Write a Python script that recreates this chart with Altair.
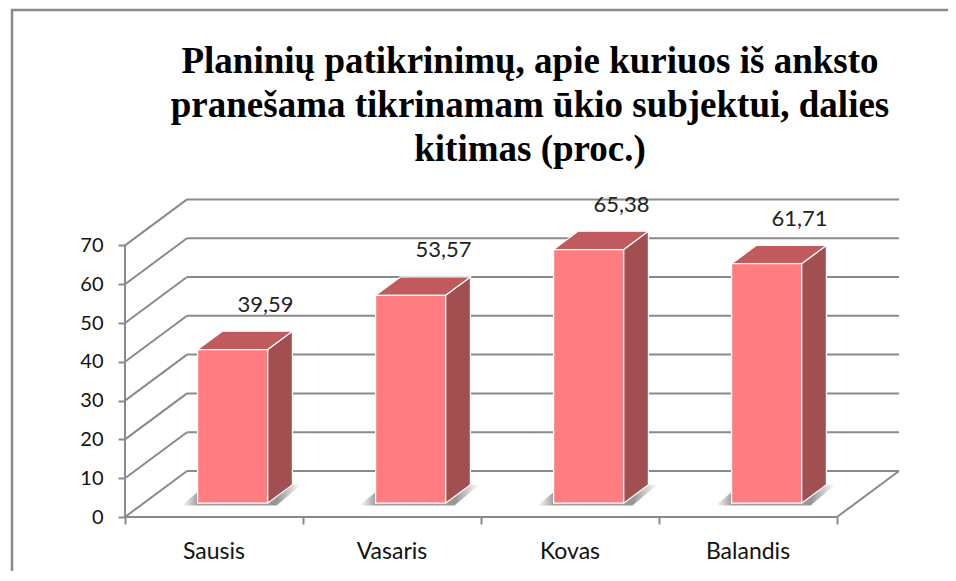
import altair as alt
import pandas as pd

# ---------------- data ----------------
months = ["Sausis", "Vasaris", "Kovas", "Balandis"]
values = [39.59, 53.57, 65.38, 61.71]
value_labels = ["39,59", "53,57", "65,38", "61,71"]
y_ticks = [0, 10, 20, 30, 40, 50, 60, 70]
title_lines = [
    "Planinių patikrinimų, apie kuriuos iš anksto",
    "pranešama tikrinamam ūkio subjektui, dalies",
    "kitimas (proc.)",
]

# ---------------- oblique 3-D geometry (in scale units) ----------------
W, H = 776, 330            # plot area (px)
PX_X, PX_Y = 178.0, 3.88   # px per category band / px per percent
XMAX, YMAX = W / PX_X, H / PX_Y
DX, DY = 62 / PX_X, 46 / PX_Y   # full depth of the floor
F0, F1 = 0.30, 0.70             # bar front / back depth fraction
BW = 70 / PX_X                  # bar width
n = len(months)
dep_x, dep_y = (F1 - F0) * DX, (F1 - F0) * DY

front_rows, side_rows, top_rows, lab_rows, shadow_rows = [], [], [], [], []
for i, (m, v, lab) in enumerate(zip(months, values, value_labels)):
    cx = i + 0.5 + F0 * DX
    xl, xr = cx - BW / 2, cx + BW / 2
    y0, y1 = F0 * DY, v + F0 * DY
    front_rows.append(dict(month=m, xl=xl, xr=xr, y0=y0, y1=y1))
    side_rows += [dict(month=m, x=xr, lo=y0, hi=y1),
                  dict(month=m, x=xr + dep_x, lo=y0 + dep_y, hi=y1 + dep_y)]
    top_rows += [dict(month=m, y=y1, xa=xl, xb=xr),
                 dict(month=m, y=y1 + dep_y, xa=xl + dep_x, xb=xr + dep_x)]
    lab_rows.append(dict(month=m, x=cx, y=y1, label=lab))
    shadow_rows += [dict(month=m, y=y0 - 0.6, xa=xl - 0.09, xb=xr + 0.05),
                    dict(month=m, y=y0 + dep_y, xa=xl - 0.09 + dep_x, xb=xr + 0.05 + dep_x)]

front_df = pd.DataFrame(front_rows)
side_df = pd.DataFrame(side_rows)
top_df = pd.DataFrame(top_rows)
lab_df = pd.DataFrame(lab_rows)
shadow_df = pd.DataFrame(shadow_rows)
cat_df = pd.DataFrame(dict(month=months, x=[i + 0.5 for i in range(n)], y=[0] * n))

back_df = pd.DataFrame(dict(x=[DX] * len(y_ticks), x2=[n + DX] * len(y_ticks),
                            y=[t + DY for t in y_ticks]))
diag_df = pd.DataFrame(dict(x=[0] * len(y_ticks), x2=[DX] * len(y_ticks),
                            y=y_ticks, y2=[t + DY for t in y_ticks]))
edge_df = pd.DataFrame(dict(x=[n, 0, 0], x2=[n + DX, n, 0],
                            y=[0, 0, 0], y2=[DY, 0, max(y_ticks)]))

xs = alt.Scale(domain=[0, XMAX], nice=False, zero=False)
ys = alt.Scale(domain=[0, YMAX], nice=False, zero=False)
GRID = "#8a8a8a"

y_axis = alt.Axis(values=y_ticks, title=None, domain=False, grid=False,
                  labelFont="Lato", labelFontSize=20, labelColor="#111",
                  labelPadding=15, tickColor=GRID, tickWidth=2, tickSize=7)
x_axis = alt.Axis(values=list(range(n + 1)), title=None, domain=False, grid=False,
                  labels=False, tickColor=GRID, tickWidth=2, tickSize=7)


def X(field):
    return alt.X(field, scale=xs, axis=x_axis)


def Y(field):
    return alt.Y(field, scale=ys, axis=y_axis)


back = alt.Chart(back_df).mark_rule(color=GRID, strokeWidth=2).encode(
    x=X("x:Q"), x2="x2:Q", y=Y("y:Q"))
diag = alt.Chart(diag_df).mark_rule(color=GRID, strokeWidth=2).encode(
    x=X("x:Q"), x2="x2:Q", y=Y("y:Q"), y2="y2:Q")
edges = alt.Chart(edge_df).mark_rule(color=GRID, strokeWidth=2).encode(
    x=X("x:Q"), x2="x2:Q", y=Y("y:Q"), y2="y2:Q")

shadow_fill = alt.Gradient(
    gradient="linear", x1=0, x2=1, y1=0, y2=0,
    stops=[alt.GradientStop(color="#ffffff", offset=0),
           alt.GradientStop(color="#7a7a7a", offset=0.13),
           alt.GradientStop(color="#6a6a6a", offset=0.8),
           alt.GradientStop(color="#ffffff", offset=1)])
shadow = alt.Chart(shadow_df).mark_area(color=shadow_fill, opacity=0.7,
                                        orient="horizontal").encode(
    y=Y("y:Q"), x=X("xa:Q"), x2="xb:Q", detail="month:N")

front = alt.Chart(front_df).mark_rect(color="#FF7C80", stroke="#ffffff",
                                      strokeWidth=1.2).encode(
    x=X("xl:Q"), x2="xr:Q", y=Y("y0:Q"), y2="y1:Q")
side = alt.Chart(side_df).mark_area(color="#A14F51", stroke="#ffffff",
                                    strokeWidth=1.2).encode(
    x=X("x:Q"), y=Y("lo:Q"), y2="hi:Q", detail="month:N")
top = alt.Chart(top_df).mark_area(color="#C05A5D", stroke="#ffffff",
                                  strokeWidth=1.2, orient="horizontal").encode(
    y=Y("y:Q"), x=X("xa:Q"), x2="xb:Q", detail="month:N")

vlabels = alt.Chart(lab_df).mark_text(font="Lato", fontSize=22, color="#222",
                                      dx=33, dy=-38, baseline="alphabetic").encode(
    x=X("x:Q"), y=Y("y:Q"), text="label:N")
clabels = alt.Chart(cat_df).mark_text(font="Lato", fontSize=23, color="#111",
                                      dy=42, baseline="alphabetic").encode(
    x=X("x:Q"), y=Y("y:Q"), text="month:N")

frame = alt.Chart(pd.DataFrame({"k": [0]})).mark_rect(
    filled=False, stroke="#8a8a8a", strokeWidth=2.5).encode(
    x=alt.value(-113), x2=alt.value(W + 80),
    y=alt.value(-177), y2=alt.value(H + 90))

chart = alt.layer(frame, back, diag, edges, shadow, side, top, front,
                  vlabels, clabels).properties(
    width=W, height=H,
    autosize=alt.AutoSizeParams(type="none"),
    padding={"left": 117, "top": 179, "right": 47, "bottom": 54},
    title=alt.TitleParams(text=title_lines, font="Liberation Serif", fontSize=37,
                          fontWeight="bold", anchor="middle", dx=17, offset=-197,
                          frame="group", baseline="bottom",
                          lineHeight=44, color="#000"),
).configure(background="white").configure_view(strokeWidth=0, stroke="transparent")

chart.save("out.html", embed_options={"renderer": "svg", "actions": False})
